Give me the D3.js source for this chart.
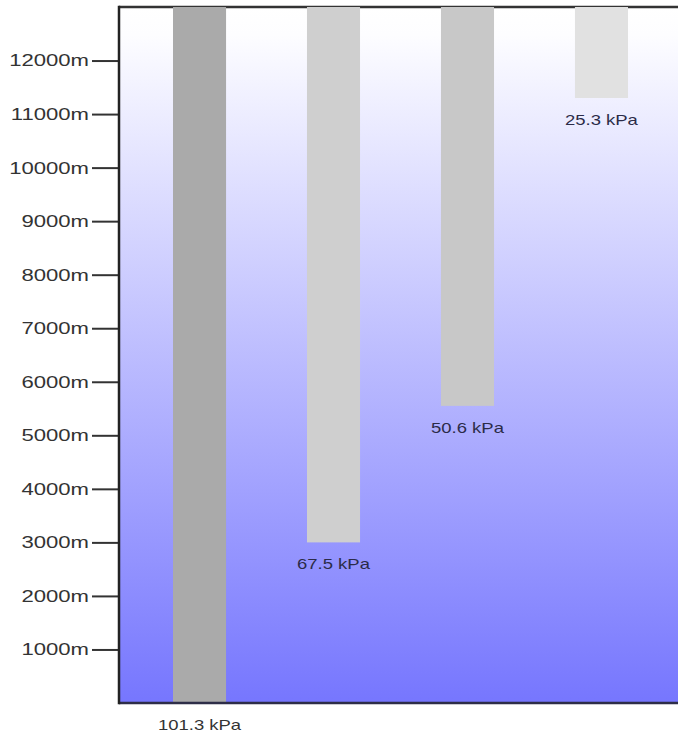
<!DOCTYPE html>
<html>
<head>
<meta charset="utf-8">
<script src="https://cdn.jsdelivr.net/npm/d3@7/dist/d3.min.js"></script>
<style>
  html, body { margin: 0; padding: 0; background: #fff; }
  svg { display: block; }
</style>
</head>
<body>
<svg id="chart" width="678" height="735"></svg>
<script>
// ---- data ----
const pressures = ["101.3 kPa", "67.5 kPa", "50.6 kPa", "25.3 kPa"];
const altitudes = [0, 3000, 5550, 11300];
const barColors = ["#aaaaaa", "#cfcfcf", "#c8c8c8", "#e1e1e1"];
const tickValues = [1000, 2000, 3000, 4000, 5000, 6000, 7000, 8000, 9000, 10000, 11000, 12000];
const yMax = 13000;

// ---- layout ----
const W = 678, H = 735;
const mLeft = 119, mRight = 682, mTop = 7, mBottom = 703;

const svg = d3.select("#chart");

const defs = svg.append("defs");
const grad = defs.append("linearGradient")
  .attr("id", "bg").attr("x1", 0).attr("y1", 0).attr("x2", 0).attr("y2", 1);
grad.append("stop").attr("offset", "0%").attr("stop-color", "#ffffff");
grad.append("stop").attr("offset", "4%").attr("stop-color", "#fdfdff");
grad.append("stop").attr("offset", "100%").attr("stop-color", "#7676fe");

const y = d3.scaleLinear().domain([0, yMax]).range([mBottom, mTop]);
const x = d3.scaleBand().domain(pressures).range([mLeft, mRight])
  .paddingInner(0.604).paddingOuter(0.403);

// background
svg.append("rect")
  .attr("x", mLeft).attr("y", mTop)
  .attr("width", W - mLeft).attr("height", mBottom - mTop)
  .attr("fill", "url(#bg)");

// top line
svg.append("line")
  .attr("x1", mLeft).attr("x2", W).attr("y1", mTop).attr("y2", mTop)
  .attr("stroke", "#333333").attr("stroke-width", 2.5);

// bars hanging from top down to altitude
svg.append("g").selectAll("rect")
  .data(pressures)
  .join("rect")
  .attr("x", d => x(d))
  .attr("y", mTop)
  .attr("width", x.bandwidth())
  .attr("height", (d, i) => y(altitudes[i]) - mTop)
  .attr("fill", (d, i) => barColors[i]);

// bottom line
svg.append("line")
  .attr("x1", mLeft).attr("x2", W).attr("y1", mBottom).attr("y2", mBottom)
  .attr("stroke", "#2e2e48").attr("stroke-width", 2.5);

// y axis
const axis = d3.axisLeft(y)
  .tickValues(tickValues)
  .tickSize(27)
  .tickPadding(3)
  .tickFormat(d => d + "m");

const ag = svg.append("g")
  .attr("transform", `translate(${mLeft},0)`)
  .call(axis);
ag.select(".domain").remove();
ag.selectAll(".tick line").attr("stroke", "#333333").attr("stroke-width", 2);
ag.selectAll(".tick text")
  .attr("fill", "#333333")
  .style("font-family", "'Liberation Sans', Arial, sans-serif")
  .style("font-size", "17px")
  .each(function () {
    const len = this.getComputedTextLength();
    d3.select(this).attr("textLength", len * 1.3).attr("lengthAdjust", "spacingAndGlyphs");
  });

// left axis line
svg.append("line")
  .attr("x1", mLeft).attr("x2", mLeft).attr("y1", mTop - 1.2).attr("y2", mBottom + 1.2)
  .attr("stroke", "#222222").attr("stroke-width", 2.5);

// bar labels
svg.append("g").selectAll("text")
  .data(pressures)
  .join("text")
  .attr("x", d => x(d) + x.bandwidth() / 2)
  .attr("y", (d, i) => y(altitudes[i]) + 27)
  .attr("text-anchor", "middle")
  .attr("fill", (d, i) => i === 0 ? "#333333" : "#2b2b48")
  .style("font-family", "'Liberation Sans', Arial, sans-serif")
  .style("font-size", "15px")
  .text(d => d)
  .each(function () {
    const len = this.getComputedTextLength();
    d3.select(this).attr("textLength", len * 1.23).attr("lengthAdjust", "spacingAndGlyphs");
  });
</script>
</body>
</html>
